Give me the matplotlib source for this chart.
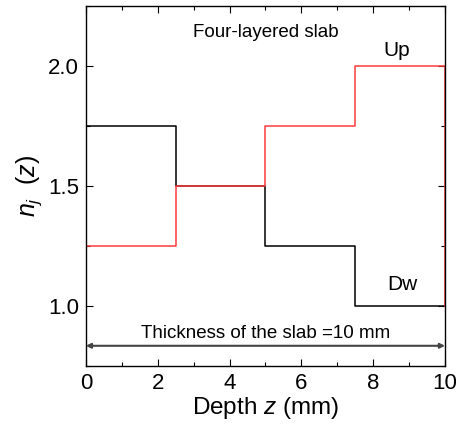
import numpy as np
import matplotlib
matplotlib.use("Agg")
import matplotlib.pyplot as plt
from matplotlib.ticker import MultipleLocator

plt.rcParams['font.family'] = ['Liberation Sans', 'DejaVu Sans']
plt.rcParams['mathtext.fontset'] = 'custom'
plt.rcParams['mathtext.rm'] = 'Liberation Sans'
plt.rcParams['mathtext.it'] = 'Liberation Sans:italic'

# Layer boundaries (mm) and refractive index per layer
boundaries = [0, 2.5, 5, 7.5, 10]
n_up = [1.25, 1.5, 1.75, 2.0]
n_dw = [1.75, 1.5, 1.25, 1.0]
n_base = 1.0

def step_xy(b, n):
    x = [b[0]]
    y = [n_base]
    for i, v in enumerate(n):
        x += [b[i], b[i + 1]]
        y += [v, v]
    x.append(b[-1])
    y.append(n_base)
    return x, y

fig = plt.figure(figsize=(4.59, 4.28), dpi=100)
ax = fig.add_axes([0.187, 0.145, 0.9695 - 0.187, 0.986 - 0.145])

xd, yd = step_xy(boundaries, n_dw)
xu, yu = step_xy(boundaries, n_up)
ax.plot(xd, yd, color='black', lw=1.1)
ax.plot(xu, yu, color='#ff3a3a', lw=1.1)

ax.set_xlim(0, 10)
ax.set_ylim(0.75, 2.25)
ax.xaxis.set_major_locator(MultipleLocator(2))
ax.xaxis.set_minor_locator(MultipleLocator(1))
ax.set_yticks([1.0, 1.5, 2.0])
ax.yaxis.set_minor_locator(MultipleLocator(0.25))
ax.tick_params(which='both', direction='in', top=True, right=True, labelsize=16)
ax.tick_params(which='major', length=5, width=0.8)
ax.tick_params(which='minor', length=3, width=0.8)
ax.tick_params(axis='x', pad=5)
ax.tick_params(axis='y', pad=5)
for s in ax.spines.values():
    s.set_linewidth(1.0)

ax.set_xlabel(r'Depth $z$ (mm)', fontsize=17.5, labelpad=1)
ax.set_ylabel(r'$n_j\ \ (z)$', fontsize=18, labelpad=3)

ax.text(5.0, 2.14, 'Four-layered slab', ha='center', va='center', fontsize=13.5)
ax.text(8.65, 2.065, 'Up', ha='center', va='center', fontsize=15)
ax.text(8.8, 1.09, 'Dw', ha='center', va='center', fontsize=15)
ax.text(5.0, 0.885, 'Thickness of the slab =10 mm', ha='center', va='center', fontsize=13.5)
ax.annotate('', xy=(0, 0.834), xytext=(10, 0.834),
            arrowprops=dict(arrowstyle='<|-|>', color='#444444', lw=1.5,
                            mutation_scale=7, shrinkA=0, shrinkB=0))

fig.savefig('out.png', dpi=100)
